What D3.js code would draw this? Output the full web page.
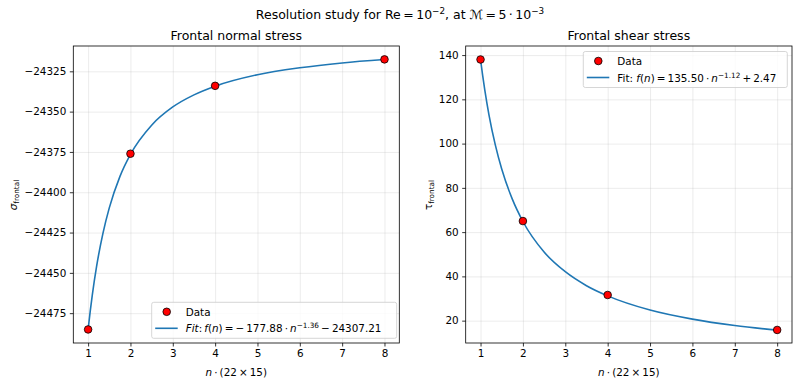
<!DOCTYPE html>
<html lang="en">
<head>
    <meta charset="UTF-8">
    <title>Resolution study</title>
    <script src="https://d3js.org/d3.v7.min.js"></script>
    <style>
        body { margin: 0; background: #fff; }
        text { font-family: "DejaVu Sans", sans-serif; fill: #000; }
    </style>
</head>
<body>
<svg id="chart" width="800" height="385"></svg>
<script>
    // measured points
    var nData = [1, 2, 4, 8];
    var sigmaData = [-24485.1, -24376.1, -24334.0, -24317.6];
    var tauData = [138.0, 65.0, 31.6, 15.8];

    // fitted curves
    var nFit = [1, 1.05, 1.1, 1.2, 1.35, 1.5, 1.75, 2, 2.5, 3, 3.5, 4, 5, 6, 7, 8];
    var sigmaFit = [-24485.1, -24473.7, -24463.5, -24446.0, -24425.5, -24409.7, -24390.3, -24376.5,
                    -24358.4, -24347.1, -24339.6, -24334.2, -24327.1, -24322.8, -24319.8, -24317.7];
    var tauFit = [138.0, 130.8, 124.3, 112.9, 99.3, 88.5, 74.9, 64.8, 51.0, 42.1, 35.8, 31.2, 24.8, 20.7, 17.8, 15.7];

    // tick labels
    var xTicks = [1, 2, 3, 4, 5, 6, 7, 8];
    var sigmaTicks = [-24475, -24450, -24425, -24400, -24375, -24350, -24325];
    var tauTicks = [20, 40, 60, 80, 100, 120, 140];

    var svg = d3.select('#chart');
    var plotTop = 46, plotBottom = 343, fs = 10.4;

    // suptitle
    var t = svg.append('text').attr('x', 400).attr('y', 19).attr('text-anchor', 'middle').style('font-size', '12.5px');
    t.append('tspan').text('Resolution study for Re\u2009=\u200910');
    t.append('tspan').attr('dy', -5).style('font-size', '8.8px').text('\u22122');
    t.append('tspan').attr('dy', 5).text(', at \u2133\u2009=\u20095\u2009\u00b7\u200910');
    t.append('tspan').attr('dy', -5).style('font-size', '8.8px').text('\u22123');

    function drawPanel(cfg) {
        var x = d3.scaleLinear().domain([0.65, 8.35]).range([cfg.left, cfg.right]);
        var y = d3.scaleLinear().domain(cfg.yDomain).range([plotBottom, plotTop]);
        var g = svg.append('g');
        var h = plotBottom - plotTop, w = cfg.right - cfg.left;

        // grid
        g.append('g').attr('transform', 'translate(0,' + plotBottom + ')')
            .call(d3.axisBottom(x).tickValues(xTicks).tickSize(-h).tickFormat(''))
            .call(function (s) { s.select('.domain').remove(); })
            .selectAll('line').attr('stroke', '#b0b0b0').attr('stroke-opacity', 0.3).attr('stroke-width', 0.8);
        g.append('g').attr('transform', 'translate(' + cfg.left + ',0)')
            .call(d3.axisLeft(y).tickValues(cfg.yTicks).tickSize(-w).tickFormat(''))
            .call(function (s) { s.select('.domain').remove(); })
            .selectAll('line').attr('stroke', '#b0b0b0').attr('stroke-opacity', 0.3).attr('stroke-width', 0.8);

        // fit line
        var line = d3.line().curve(d3.curveMonotoneX)
            .x(function (d) { return x(d[0]); })
            .y(function (d) { return y(d[1]); });
        g.append('path').datum(d3.zip(nFit, cfg.fit))
            .attr('d', line).attr('fill', 'none').attr('stroke', '#1f77b4').attr('stroke-width', 1.6);

        // data points
        g.selectAll('circle').data(d3.zip(nData, cfg.data)).enter()
            .append('circle')
            .attr('cx', function (d) { return x(d[0]); })
            .attr('cy', function (d) { return y(d[1]); })
            .attr('r', 3.8)
            .attr('fill', 'red').attr('stroke', '#000').attr('stroke-width', 0.8);

        // frame
        g.append('rect').attr('x', cfg.left).attr('y', plotTop)
            .attr('width', w).attr('height', h)
            .attr('fill', 'none').attr('stroke', '#000').attr('stroke-width', 0.8);

        // axes
        var ax = g.append('g').attr('transform', 'translate(0,' + plotBottom + ')')
            .call(d3.axisBottom(x).tickValues(xTicks).tickSize(3.5).tickPadding(3.5).tickSizeOuter(0).tickFormat(d3.format('d')));
        var ay = g.append('g').attr('transform', 'translate(' + cfg.left + ',0)')
            .call(d3.axisLeft(y).tickValues(cfg.yTicks).tickSize(3.5).tickPadding(3.5).tickSizeOuter(0).tickFormat(d3.format('d')));
        [ax, ay].forEach(function (a) {
            a.select('.domain').remove();
            a.selectAll('line').attr('stroke', '#000').attr('stroke-width', 0.8);
            a.selectAll('text').style('font-size', fs + 'px').style('font-family', '"DejaVu Sans", sans-serif').attr('fill', '#000');
        });

        // titles
        var mid = (cfg.left + cfg.right) / 2;
        g.append('text').attr('x', mid).attr('y', 40).attr('text-anchor', 'middle')
            .style('font-size', '12.5px').text(cfg.title);
        var xl = g.append('text').attr('x', mid).attr('y', 376).attr('text-anchor', 'middle').style('font-size', fs + 'px');
        xl.append('tspan').style('font-style', 'italic').text('n');
        xl.append('tspan').text('\u2009\u00b7\u2009(22\u2009\u00d7\u200915)');

        var yl = g.append('text').attr('transform', 'translate(' + cfg.ylx + ',195) rotate(-90)')
            .attr('text-anchor', 'middle').style('font-size', fs + 'px');
        yl.append('tspan').style('font-style', cfg.symItalic ? 'italic' : 'normal').text(cfg.sym);
        yl.append('tspan').attr('dy', 2).style('font-size', '7.3px').text('frontal');

        // legend
        var L = cfg.legend;
        g.append('rect').attr('x', L.x).attr('y', L.y).attr('width', L.w).attr('height', 36)
            .attr('rx', 2).attr('fill', '#fff').attr('fill-opacity', 0.8)
            .attr('stroke', '#ccc').attr('stroke-width', 0.8);
        g.append('circle').attr('cx', L.x + 15).attr('cy', L.y + 9.5).attr('r', 3.8)
            .attr('fill', 'red').attr('stroke', '#000').attr('stroke-width', 0.8);
        g.append('line').attr('x1', L.x + 3.5).attr('x2', L.x + 26).attr('y1', L.y + 26).attr('y2', L.y + 26)
            .attr('stroke', '#1f77b4').attr('stroke-width', 1.6);
        g.append('text').attr('x', L.x + 34).attr('y', L.y + 13.3).style('font-size', fs + 'px').text('Data');
        var ft = g.append('text').attr('x', L.x + 34).attr('y', L.y + 30).style('font-size', fs + 'px');
        cfg.fitText.forEach(function (p) {
            var s = ft.append('tspan').text(p[0]);
            if (p[1] === 'i') s.style('font-style', 'italic');
            if (p[1] === 'sup') s.attr('dy', -4).style('font-size', '7.3px');
            if (p[1] === 'down') s.attr('dy', 4);
        });
    }

    drawPanel({
        left: 73.3, right: 399.3,
        yDomain: [-24493.5, -24309.3], yTicks: sigmaTicks,
        data: sigmaData, fit: sigmaFit,
        title: 'Frontal normal stress',
        sym: '\u03c3', symItalic: true, ylx: 17,
        legend: { x: 151.7, y: 302.3, w: 245 },
        fitText: [['Fit', 'i'], [':\u2009'], ['f', 'i'], ['('], ['n', 'i'], [')\u2009=\u2009\u2212\u2009177.88\u2009\u00b7\u2009'],
                  ['n', 'i'], ['\u22121.36', 'sup'], ['\u2009\u2212\u200924307.21', 'down']]
    });

    drawPanel({
        left: 465.7, right: 792,
        yDomain: [9.9, 144.1], yTicks: tauTicks,
        data: tauData, fit: tauFit,
        title: 'Frontal shear stress',
        sym: '\u03c4', symItalic: false, ylx: 432,
        legend: { x: 583.3, y: 51.5, w: 204 },
        fitText: [['Fit: '], ['f', 'i'], ['('], ['n', 'i'], [')\u2009=\u2009135.50\u2009\u00b7\u2009'],
                  ['n', 'i'], ['\u22121.12', 'sup'], ['\u2009+\u20092.47', 'down']]
    });
</script>
</body>
</html>
